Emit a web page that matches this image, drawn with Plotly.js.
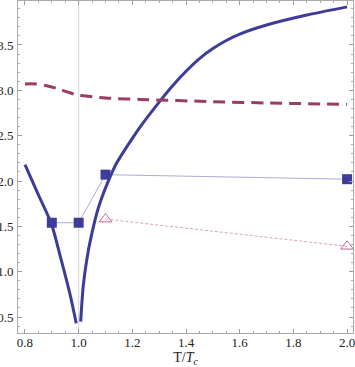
<!DOCTYPE html>
<html>
<head>
<meta charset="utf-8">
<script src="https://cdn.plot.ly/plotly-3.0.1.min.js"></script>
<style>
  html, body { margin: 0; padding: 0; background: #fff; }
  #plot { width: 355px; height: 367px; }
</style>
</head>
<body>
<div id="plot"></div>
<script>
// values
const leftBranchT = [0.8, 0.848, 0.898, 0.935, 0.967, 0.991];
const leftBranchY = [2.18, 1.86, 1.53, 1.13, 0.76, 0.43];

const rightBranchT = [1.0075, 1.017, 1.030, 1.049, 1.073, 1.105, 1.14, 1.20, 1.24, 1.30, 1.35, 1.40, 1.45, 1.50, 1.55, 1.60, 1.70, 1.85, 2.0];
const rightBranchY = [0.45, 0.84, 1.13, 1.42, 1.70, 1.96, 2.19, 2.47, 2.64, 2.87, 3.05, 3.21, 3.35, 3.46, 3.55, 3.62, 3.72, 3.83, 3.92];

const dashedT = [0.8, 0.84, 0.88, 0.92, 0.96, 1.0, 1.05, 1.1, 1.229, 1.5, 1.713, 2.0];
const dashedY = [3.07, 3.07, 3.05, 3.02, 2.98, 2.945, 2.93, 2.915, 2.90, 2.875, 2.86, 2.845];

const squareT = [0.9, 1.0, 1.1, 2.0];
const squareY = [1.54, 1.54, 2.07, 2.02];

const triangleT = [1.1, 2.0];
const triangleY = [1.58, 1.28];

const gridT = [1.0];

const xTicks = [0.8, 1.0, 1.2, 1.4, 1.6, 1.8, 2.0];
const yTicks = [0.5, 1.0, 1.5, 2.0, 2.5, 3.0, 3.5];

const blue = '#3d3d99';
const plum = '#993d66';
const pink = '#c4629a';

const traces = [
    { x: leftBranchT, y: leftBranchY, type: 'scatter', mode: 'lines',
      line: { color: blue, width: 3, shape: 'spline', smoothing: 0.8 } },
    { x: rightBranchT, y: rightBranchY, type: 'scatter', mode: 'lines',
      line: { color: blue, width: 3, shape: 'spline', smoothing: 0.8 } },
    { x: dashedT, y: dashedY, type: 'scatter', mode: 'lines',
      line: { color: plum, width: 3, dash: '12px,7px', shape: 'spline', smoothing: 0.8 } },
    { x: squareT, y: squareY, type: 'scatter', mode: 'lines+markers',
      line: { color: 'rgba(61,61,153,0.55)', width: 0.8 },
      marker: { symbol: 'square', size: 10, color: blue } },
    { x: triangleT, y: triangleY, type: 'scatter', mode: 'lines+markers',
      line: { color: 'rgba(196,98,154,0.75)', width: 0.8, dash: '3px,2px' },
      marker: { symbol: 'triangle-up-open', size: 11, color: pink, line: { width: 1, color: pink } } }
];

const axisFont = { family: 'Liberation Serif, DejaVu Serif, serif', size: 13, color: '#222' };

const layout = {
    width: 355,
    height: 367,
    margin: { l: 18, r: 2, t: 1, b: 34 },
    paper_bgcolor: '#fff',
    plot_bgcolor: '#fff',
    showlegend: false,
    xaxis: {
        range: [0.774, 2.022],
        tickvals: xTicks,
        ticktext: xTicks.map(v => v.toFixed(1)),
        ticks: 'inside', ticklen: 4, tickcolor: '#999', tickwidth: 1,
        minor: { dtick: 0.05, tick0: 0.8, ticks: 'inside', ticklen: 2, tickcolor: '#aaa', showgrid: false },
        showgrid: false, zeroline: false,
        showline: true, linecolor: '#aaa', linewidth: 1, mirror: 'allticks',
        tickfont: axisFont,
        ticklabeloverflow: 'allow',
        ticklabelstandoff: -3,
        title: { text: 'T/<i>T</i><sub><i>c</i></sub>', font: { family: 'Liberation Serif, DejaVu Serif, serif', size: 14, color: '#222' }, standoff: 2 }
    },
    yaxis: {
        range: [0.324, 3.985],
        tickvals: yTicks,
        ticktext: yTicks.map(v => v.toFixed(1)),
        ticks: 'inside', ticklen: 4, tickcolor: '#999', tickwidth: 1,
        minor: { dtick: 0.1, tick0: 0.5, ticks: 'inside', ticklen: 2, tickcolor: '#aaa', showgrid: false },
        showgrid: false, zeroline: false,
        showline: true, linecolor: '#aaa', linewidth: 1, mirror: 'allticks',
        tickfont: axisFont,
        ticklabeloverflow: 'allow',
        ticklabelstandoff: 1
    },
    shapes: gridT.map(t => ({
        type: 'line', xref: 'x', yref: 'paper', x0: t, x1: t, y0: 0, y1: 1,
        line: { color: '#d4d4d4', width: 1 }, layer: 'below'
    }))
};

Plotly.newPlot('plot', traces, layout, { staticPlot: true });
</script>
</body>
</html>
